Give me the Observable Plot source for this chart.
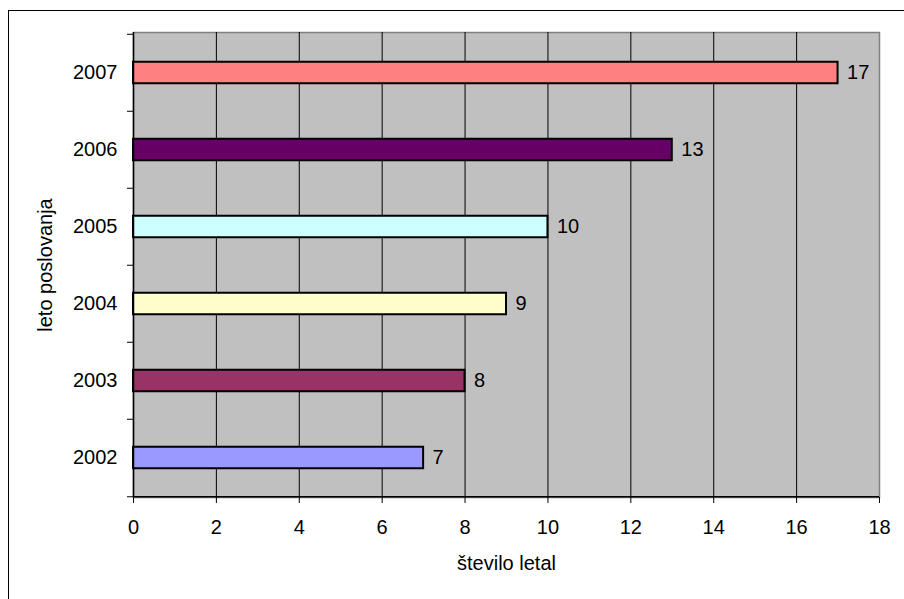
<!DOCTYPE html>
<html>
<head>
<meta charset="utf-8">
<script src="https://cdn.jsdelivr.net/npm/d3@7"></script>
<script src="https://cdn.jsdelivr.net/npm/@observablehq/plot@0.6"></script>
<style>
  html, body { margin: 0; padding: 0; background: #fff; }
  #wrap { position: relative; width: 904px; height: 599px; overflow: hidden; }
  #border { position: absolute; left: 8px; top: 10px; width: 1000px; height: 1000px;
            border-left: 1.5px solid #000; border-top: 1.5px solid #000; box-sizing: border-box; }
  #chart { position: absolute; left: 0; top: 0; }
</style>
</head>
<body>
<div id="wrap"><div id="border"></div><div id="chart"></div></div>
<script>
const years = ["2007", "2006", "2005", "2004", "2003", "2002"];
const values = [17, 13, 10, 9, 8, 7];
const barColors = ["#FF8080", "#660066", "#CCFFFF", "#FFFFCC", "#993366", "#9999FF"];
const xTicks = [0, 2, 4, 6, 8, 10, 12, 14, 16, 18];
const xTitle = "število letal";
const yTitle = "leto poslovanja";

const data = years.map((y, i) => ({year: y, value: values[i]}));

const W = 904, H = 599;
const mL = 133, mR = 25, mT = 32, mB = 102;
const half = (H - mT - mB) / years.length / 2;
const font = "Liberation Sans, Arial, Helvetica, sans-serif";
const fs = 20;

const plot = Plot.plot({
  width: W, height: H,
  marginLeft: mL, marginRight: mR, marginTop: mT, marginBottom: mB,
  style: {fontFamily: font, fontSize: fs + "px", background: "transparent", color: "#000"},
  x: {domain: [0, 18], axis: null, label: null},
  y: {domain: years, padding: 0, axis: null, label: null},
  color: {domain: years, range: barColors},
  marks: [
    Plot.frame({fill: "#C0C0C0", stroke: "#808080", strokeWidth: 1.5}),
    Plot.ruleX(xTicks.filter(t => t > 0 && t < 18), {stroke: "#000", strokeWidth: 1}),
    Plot.barX(data, {x: "value", y: "year", fill: "year", stroke: "#000", strokeWidth: 2,
      insetTop: half - 11, insetBottom: half - 11}),
    Plot.text(data, {x: "value", y: "year", text: d => String(d.value), textAnchor: "start",
      dx: 9, fontSize: fs, fill: "#000"}),
    Plot.ruleX([0], {stroke: "#000", strokeWidth: 1.5}),
    Plot.ruleY([years[years.length - 1]], {dy: half, stroke: "#000", strokeWidth: 1.5}),
    Plot.axisX({ticks: xTicks, tickSize: 6, tickPadding: 16, fontSize: fs, label: null, tickFormat: d => String(d)}),
    Plot.axisY({ticks: years, tickSize: 0, tickPadding: 16, fontSize: fs, label: null}),
    Plot.axisY({ticks: years, tickSize: 6, dy: -half, label: null, tickFormat: () => ""}),
    Plot.axisY({ticks: [years[years.length - 1]], tickSize: 6, dy: half, label: null, tickFormat: () => ""}),
    Plot.text([xTitle], {frameAnchor: "bottom", lineAnchor: "middle", textAnchor: "middle", dy: 66, fontSize: fs, fill: "#000"}),
    Plot.text([yTitle], {frameAnchor: "left", textAnchor: "middle", lineAnchor: "middle", rotate: -90, dx: -88, fontSize: fs, fill: "#000"})
  ]
});
document.getElementById("chart").appendChild(plot);
</script>
</body>
</html>
